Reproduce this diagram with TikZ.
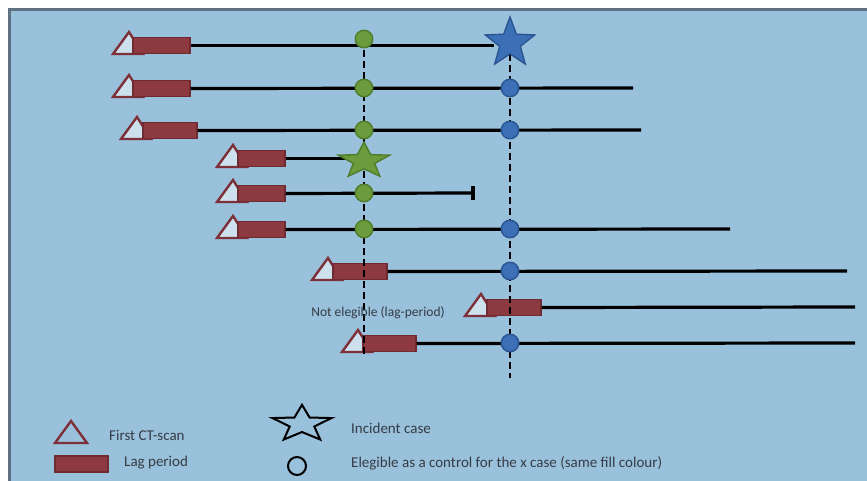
\documentclass[tikz,border=0pt]{standalone}
\usepackage{fontspec}
\setmainfont{Carlito}
\usetikzlibrary{shapes.geometric}
\definecolor{bg}{HTML}{99C1DB}
\definecolor{framec}{HTML}{5F7282}
\definecolor{lagfill}{HTML}{8C3A40}
\definecolor{lagdraw}{HTML}{6F2B31}
\definecolor{trired}{HTML}{7E3038}
\definecolor{gfill}{HTML}{6B9B3C}
\definecolor{gdraw}{HTML}{4F7D2B}
\definecolor{bfill}{HTML}{3B6FB6}
\definecolor{bdraw}{HTML}{2B5592}
\definecolor{txt}{HTML}{353C45}
\begin{document}
\begin{tikzpicture}[x=1pt,y=-1pt,
  lagbar/.style={draw=lagdraw, fill=lagfill, line width=1.4pt, inner sep=0pt, minimum height=16pt},
  firstscan/.style={draw=trired, fill=bg!50!white, line width=2.4pt, line join=miter},
  timeline/.style={line width=3.2pt, black},
  cutline/.style={line width=2.6pt, black, dash pattern=on 7pt off 4pt},
  gdot/.style={circle, draw=gdraw, fill=gfill, line width=1.4pt, minimum size=17.5pt, inner sep=0pt},
  bdot/.style={circle, draw=bdraw, fill=bfill, line width=1.4pt, minimum size=17.5pt, inner sep=0pt},
  casestar/.style={star, star points=5, star point ratio=2.4, inner sep=0pt, line width=1.4pt},
  legtext/.style={text=txt, font=\fontsize{15}{18}\selectfont, anchor=west, inner sep=0pt},
  notetext/.style={text=txt, font=\fontsize{13.5}{16}\selectfont, inner sep=0pt}
]
\useasboundingbox (0,0) rectangle (867,481);
\fill[white] (0,0) rectangle (867,481);
\fill[bg] (9,10) rectangle (867,481);
\draw[framec, line width=3pt] (9,481) -- (9,10) -- (867,10);

% ---- end points of the time lines
\coordinate (e2) at (633,88);
\coordinate (e3) at (641,130);
\coordinate (e5) at (473,193);
\coordinate (e6) at (730,229);
\coordinate (e7) at (847,271);
\coordinate (e8) at (855,307);
\coordinate (e9) at (855,343);
\coordinate (gtop) at (364,39);
\coordinate (gbot) at (364,355);
\coordinate (btop) at (510,43);
\coordinate (bbot) at (510,378);

% ---- first CT-scan triangles
\foreach \xl/\yy in {113/45,113/88,121/130,217/158,217/193,217/229,312/271,465/307,342/343}{
  \draw[firstscan] (\xl,\yy+9) -- (\xl+16,\yy-13) -- (\xl+30,\yy+9) -- cycle;
}

% ---- lag bars
\node[lagbar, minimum width=57pt] (b1) at (161.5,45.5) {};
\node[lagbar, minimum width=57pt] (b2) at (161.5,88.5) {};
\node[lagbar, minimum width=54pt] (b3) at (170,130.5) {};
\node[lagbar, minimum width=47pt] (b4) at (261.5,158.5) {};
\node[lagbar, minimum width=47pt] (b5) at (261.5,193.5) {};
\node[lagbar, minimum width=47pt] (b6) at (261.5,229.5) {};
\node[lagbar, minimum width=54pt] (b7) at (360,271.5) {};
\node[lagbar, minimum width=54pt] (b8) at (514,307.5) {};
\node[lagbar, minimum width=53pt] (b9) at (389.5,343.5) {};

% ---- star outlines (for line end points)
\path (510,43) node[casestar, minimum size=52pt] (sb) {};
\path (364,161) node[casestar, minimum size=54pt, yscale=0.7, transform shape] (sg) {};

% ---- time lines
\draw[timeline] (b1.east) -- (b1.east -| sb.west);
\draw[timeline] (b2.east) -- (e2);
\draw[timeline] (b3.east) -- (e3);
\draw[timeline] (b4.east) -- (b4.east -| sg.west);
\draw[timeline] (b5.east) -- (e5);
\draw[timeline] ([yshift=-7pt]e5) -- ([yshift=7pt]e5);
\draw[timeline] (b6.east) -- (e6);
\draw[timeline] (b7.east) -- (e7);
\draw[timeline] (b8.east) -- (e8);
\draw[timeline] (b9.east) -- (e9);

% ---- dashed cut lines
\draw[cutline] (gtop) -- (gbot);
\draw[cutline] (btop) -- (bbot);

% ---- incident case stars
\node[casestar, draw=bdraw, fill=bfill, minimum size=52pt] (starb) at (510,43) {};
\node[casestar, draw=gdraw, fill=gfill, minimum size=54pt, yscale=0.7, transform shape] (starg) at (364,161) {};

% ---- control dots
\node[gdot] (g1) at (364,39) {};
\node[gdot] (g2) at (364,88) {};
\node[gdot] (g3) at (364,130) {};
\node[gdot] (g5) at (364,193) {};
\node[gdot] (g6) at (364,229) {};
\node[bdot] (c2) at (510,88) {};
\node[bdot] (c3) at (510,130) {};
\node[bdot] (c6) at (510,229) {};
\node[bdot] (c7) at (510,271) {};
\node[bdot] (c9) at (510,343) {};

\node[notetext] (note) at (378,313) {Not elegible (lag-period)};

% ---- legend
\draw[firstscan, fill=bg] (55,443) -- (71,421) -- (87,443) -- cycle;
\node[lagbar, minimum width=53pt] (lb) at (81.5,464) {};
\node[legtext] (l1) at (109,435) {First CT-scan};
\node[legtext] (l2) at (124,463) {Lag period};
\node[casestar, draw=black, fill=none, minimum size=62pt, line width=2pt, yscale=0.62, transform shape] (ls) at (302,424) {};
\node[circle, draw=black, line width=2pt, minimum width=16pt, minimum height=18pt, inner sep=0pt] (lc) at (297,466) {};
\node[legtext] (l3) at (351,428) {Incident case};
\node[legtext] (l4) at (351,463) {Elegible as a control for the x case (same fill colour)};
\end{tikzpicture}
\end{document}
